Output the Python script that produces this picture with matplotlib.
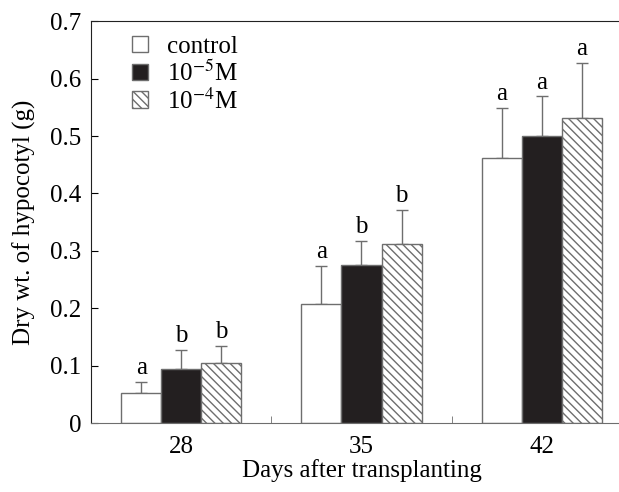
import numpy as np
import matplotlib
matplotlib.use('Agg')
import matplotlib.pyplot as plt

plt.rcParams['font.family'] = ['Liberation Serif', 'DejaVu Serif']
plt.rcParams['mathtext.fontset'] = 'stix'
plt.rcParams['hatch.color'] = '#2a2a2a'
plt.rcParams['hatch.linewidth'] = 1.0

days = ['28', '35', '42']
series = ['control', r'10$^{-5}$M', r'10$^{-4}$M']
control = [0.053, 0.207, 0.462]
low_dose = [0.094, 0.275, 0.500]
high_dose = [0.105, 0.312, 0.531]
control_se = [0.019, 0.067, 0.087]
low_se = [0.033, 0.043, 0.069]
high_se = [0.029, 0.060, 0.097]
control_sig = ['a', 'a', 'a']
low_sig = ['b', 'b', 'a']
high_sig = ['b', 'b', 'a']

fs = 18
fig = plt.figure(figsize=(6.19, 4.92), dpi=100)
ax = fig.add_axes([0.147, 0.140, 0.874, 0.817])

x = np.arange(len(days))
w = 0.222
edge = '#6e6e6e'
styles = [dict(color='white', hatch=None),
          dict(color='#231f20', hatch=None),
          dict(color='white', hatch='\\\\\\\\')]
vals = [control, low_dose, high_dose]
errs = [control_se, low_se, high_se]
sigs = [control_sig, low_sig, high_sig]

for i in range(3):
    xs = x + (i - 1) * w
    ax.bar(xs, vals[i], w, color=styles[i]['color'], hatch=styles[i]['hatch'],
           edgecolor=edge, linewidth=1.0, label=series[i], zorder=2)
    ax.errorbar(xs, vals[i], yerr=[np.zeros(3), errs[i]], fmt='none',
                ecolor=edge, elinewidth=1.0, capsize=4, capthick=1.0, zorder=1)
    for xi, v, e, s in zip(xs, vals[i], errs[i], sigs[i]):
        ax.annotate(s, (xi, v + e), xytext=(0, 2), textcoords='offset points',
                    ha='center', va='bottom', fontsize=fs)

ax.set_xlim(-0.5, 2.5)
ax.set_ylim(0, 0.7)
ax.set_xticks(x)
ax.set_xticklabels(days)
ax.set_xticks([0.5, 1.5], minor=True)
ax.set_yticks(np.arange(0, 0.71, 0.1))
ax.set_yticklabels(['0', '0.1', '0.2', '0.3', '0.4', '0.5', '0.6', '0.7'])
ax.tick_params(axis='x', which='major', length=0, pad=9, labelsize=fs)
ax.tick_params(axis='x', which='minor', direction='in', length=5, color=edge)
ax.tick_params(axis='y', direction='in', length=5, pad=7, labelsize=fs)

ax.spines['right'].set_visible(False)
ax.spines['bottom'].set_color(edge)
ax.spines['left'].set_color('#222222')
ax.spines['top'].set_color('#222222')

ax.set_xlabel('Days after transplanting', fontsize=fs, labelpad=1)
ax.set_ylabel('Dry wt. of hypocotyl (g)', fontsize=fs, labelpad=10)

ax.legend(loc='upper left', bbox_to_anchor=(0.034, 1.02), frameon=False,
          fontsize=fs, handlelength=0.65, handleheight=0.65,
          handletextpad=0.75, labelspacing=0.1)

fig.savefig('out.png', dpi=100)
